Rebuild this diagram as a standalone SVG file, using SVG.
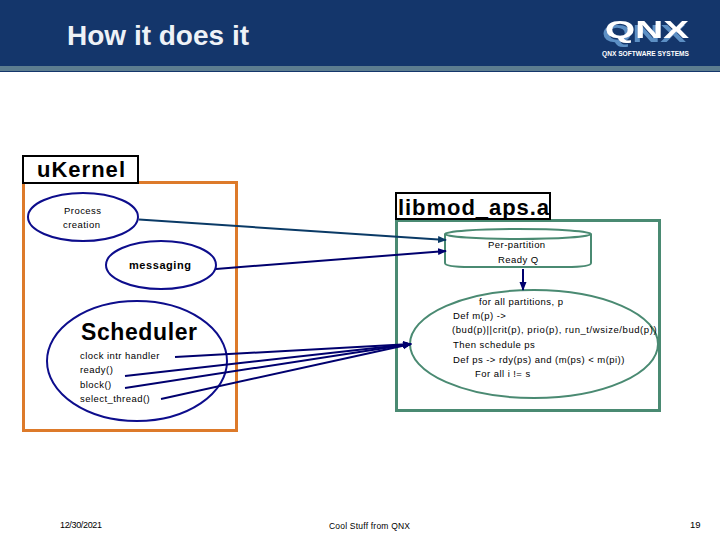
<svg xmlns="http://www.w3.org/2000/svg" width="720" height="540" viewBox="0 0 720 540">
<style>
text{font-family:"Liberation Sans",Arial,sans-serif;fill:#000}
.s{font-size:9.5px;letter-spacing:.45px}
.lbl{fill:#fff;stroke:#000;stroke-width:2}
.big{font-size:22px;font-weight:bold}
.blue{fill:none;stroke:#0d0d8c;stroke-width:2}
.green{fill:none;stroke:#4a8a72;stroke-width:2}
.c{fill:none;stroke:#00006e;stroke-width:2}
</style>
<defs>
<marker id="a" markerUnits="userSpaceOnUse" markerWidth="9" markerHeight="8" refX="8" refY="4" orient="auto"><path d="M0 0.500L9 4L0 7.500z" fill="#00006e"/></marker>
<marker id="b" markerUnits="userSpaceOnUse" markerWidth="9" markerHeight="8" refX="8" refY="4" orient="auto"><path d="M0 0.500L9 4L0 7.500z" fill="#0a3a66"/></marker>
<filter id="sh" x="-10%" y="-20%" width="120%" height="160%"><feDropShadow dx="-3" dy="4" stdDeviation="0.600" flood-color="#5c8fc4"/></filter>
</defs>
<g id="header">
<rect width="720" height="66" fill="#14366b"/>
<rect y="66" width="720" height="5" fill="#5d7d8f"/>
<rect y="71" width="720" height="1" fill="#14366b"/>
<text x="67" y="45" font-size="27" font-weight="bold" textLength="182" lengthAdjust="spacingAndGlyphs" style="fill:#eef2f7">How it does it</text>
</g>
<g id="logo">
<text x="605" y="38" font-size="24" font-weight="bold" textLength="84" lengthAdjust="spacingAndGlyphs" filter="url(#sh)" style="fill:#fff">QNX</text>
<text x="602" y="56" font-size="8" font-weight="bold" textLength="87" lengthAdjust="spacingAndGlyphs" style="fill:#fff">QNX SOFTWARE SYSTEMS</text>
</g>
<g id="ukernel">
<rect x="23.500" y="182.500" width="213" height="248" fill="#fff" stroke="#dd7a2a" stroke-width="3"/>
<rect class="lbl" x="23" y="156" width="115" height="27"/>
<text x="37" y="177" class="big" textLength="88">uKernel</text>
</g>
<g id="libmod">
<rect x="396.500" y="220.500" width="263" height="190" fill="#fff" stroke="#4a8a72" stroke-width="3"/>
<rect class="lbl" x="396" y="193" width="154" height="26"/>
<text x="398" y="215" class="big" textLength="151">libmod_aps.a</text>
</g>
<g id="process">
<ellipse class="blue" cx="83" cy="217" rx="55" ry="24"/>
<text x="64" y="214" class="s">Process</text>
<text x="63" y="228" class="s">creation</text>
</g>
<g id="messaging">
<ellipse class="blue" cx="161" cy="265" rx="55" ry="24"/>
<text x="129" y="269" font-size="11" font-weight="bold" textLength="62">messaging</text>
</g>
<g id="scheduler">
<ellipse class="blue" cx="137" cy="361" rx="90" ry="60"/>
<text x="81" y="340" font-size="23" font-weight="bold" textLength="116">Scheduler</text>
<text x="80" y="359" class="s">clock intr handler</text>
<text x="80" y="373" class="s">ready()</text>
<text x="80" y="388" class="s">block()</text>
<text x="80" y="402" class="s">select_thread()</text>
</g>
<g id="readyq">
<path class="green" d="M445 234V263Q445 267 470 267H566Q591 267 591 263V234"/>
<ellipse class="green" cx="518" cy="234" rx="73" ry="5"/>
<text x="488" y="248" class="s">Per-partition</text>
<text x="498" y="263" class="s">Ready Q</text>
</g>
<g id="policy">
<ellipse class="green" cx="534" cy="344" rx="124" ry="54"/>
<text x="479" y="305" class="s">for all partitions, p</text>
<text x="453" y="319" class="s">Def m(p) -&gt;</text>
<text x="452" y="333" class="s" textLength="205" lengthAdjust="spacing">(bud(p)||crit(p), prio(p), run_t/wsize/bud(p))</text>
<text x="453" y="348" class="s">Then schedule ps</text>
<text x="453" y="363" class="s">Def ps -&gt; rdy(ps) and (m(ps) &lt; m(pi))</text>
<text x="475" y="377" class="s">For all i != s</text>
</g>
<g id="connectors">
<path d="M139 219.500L446 240" fill="none" stroke="#0a3a66" stroke-width="2" marker-end="url(#b)"/>
<path class="c" d="M216 269L446 251" marker-end="url(#a)"/>
<path class="c" d="M523 269V290" marker-end="url(#a)"/>
<path class="c" d="M175 357L411 344" marker-end="url(#a)"/>
<path class="c" d="M125 376L411 344" marker-end="url(#a)"/>
<path class="c" d="M125 388L411 344" marker-end="url(#a)"/>
<path class="c" d="M161 399L411 344" marker-end="url(#a)"/>
</g>
<g id="footer">
<text x="60" y="528" font-size="9" textLength="42">12/30/2021</text>
<text x="329" y="529" font-size="8.500" textLength="81">Cool Stuff from QNX</text>
<text x="690" y="528" font-size="9.500">19</text>
</g>
</svg>
